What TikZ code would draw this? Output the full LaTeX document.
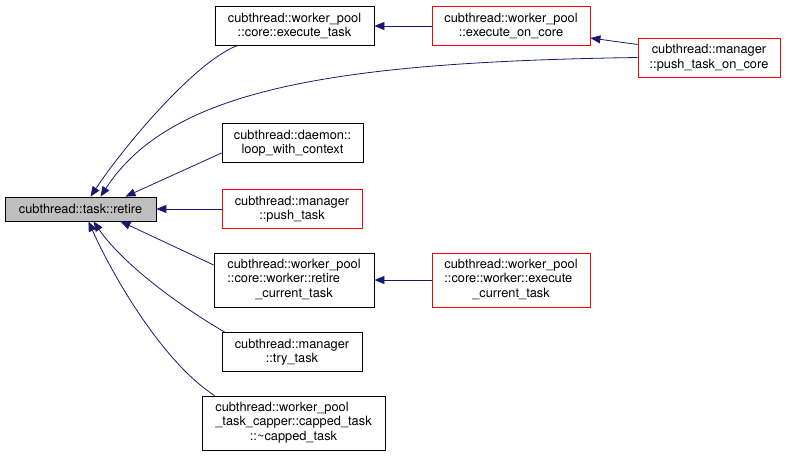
\documentclass[tikz,border=0pt]{standalone}
\usepackage{fontspec}
\setmainfont{TeX Gyre Heros}
\usetikzlibrary{arrows.meta}
\definecolor{edgeblue}{HTML}{191970}
\definecolor{retiregray}{HTML}{BFBFBF}
\begin{document}
\begin{tikzpicture}[x=1pt,y=-1pt,
  fn/.style={draw=black,thick,rectangle,inner sep=2pt,font=\fontsize{12.8}{14.5}\selectfont,align=center},
  fnred/.style={fn,draw=red},
  two/.style={minimum height=39pt},
  three/.style={minimum height=54pt},
  call/.style={edgeblue,thick,-{Triangle[length=10pt,width=8pt]}}]

\useasboundingbox (0,0) rectangle (787,458);

\node[fn,fill=retiregray,minimum width=151pt,minimum height=24pt] (retire) at (80.5,209) {cubthread::task::retire};

\node[fn,two,minimum width=159pt] (exectask) at (294.5,26) {cubthread::worker\_pool\\::core::execute\_task};
\node[fnred,two,minimum width=158pt] (execcore) at (511,26) {cubthread::worker\_pool\\::execute\_on\_core};
\node[fnred,two,minimum width=142pt] (pushcore) at (709,57.5) {cubthread::manager\\::push\_task\_on\_core};
\node[fn,two,minimum width=141pt] (loopctx) at (292.5,143) {cubthread::daemon::\\loop\_with\_context};
\node[fnred,two,minimum width=140pt] (pushtask) at (292,209) {cubthread::manager\\::push\_task};
\node[fn,three,minimum width=160pt] (retirecur) at (294,280) {\begin{tabular}{@{}l@{}}cubthread::worker\_pool\\::core::worker::retire\\\multicolumn{1}{@{}c@{}}{\_current\_task}\end{tabular}};
\node[fnred,three,minimum width=158pt] (execcur) at (511,280) {\begin{tabular}{@{}l@{}}cubthread::worker\_pool\\::core::worker::execute\\\multicolumn{1}{@{}c@{}}{\_current\_task}\end{tabular}};
\node[fn,two,minimum width=140pt] (trytask) at (292,352) {cubthread::manager\\::try\_task};
\node[fn,three,minimum width=183pt] (capped) at (293.5,423) {\begin{tabular}{@{}l@{}}cubthread::worker\_pool\\\_task\_capper::capped\_task\\\multicolumn{1}{@{}c@{}}{::\textasciitilde capped\_task}\end{tabular}};

\draw[call] ([xshift=22pt]exectask.south west) .. controls (195,62) and (125,145) .. ([xshift=10pt]retire.north);
\draw[call] (pushcore.west) .. controls (330,62) and (170,90) .. ([xshift=20pt]retire.north);
\draw[call] ([yshift=-10pt]loopctx.west) -- ([xshift=45pt]retire.north);
\draw[call] (pushtask) -- (retire);
\draw[call] ([yshift=15pt]retirecur.west) -- ([xshift=40pt]retire.south);
\draw[call] ([xshift=3pt]trytask.north west) .. controls (170,300) and (120,260) .. ([xshift=13pt]retire.south);
\draw[call] ([xshift=13pt]capped.north west) .. controls (160,360) and (110,270) .. ([xshift=8pt]retire.south);

\draw[call] (execcore) -- (exectask);
\draw[call] ([yshift=13pt]pushcore.west) -- ([yshift=-12pt]execcore.east);
\draw[call] (execcur) -- (retirecur);

\end{tikzpicture}
\end{document}
